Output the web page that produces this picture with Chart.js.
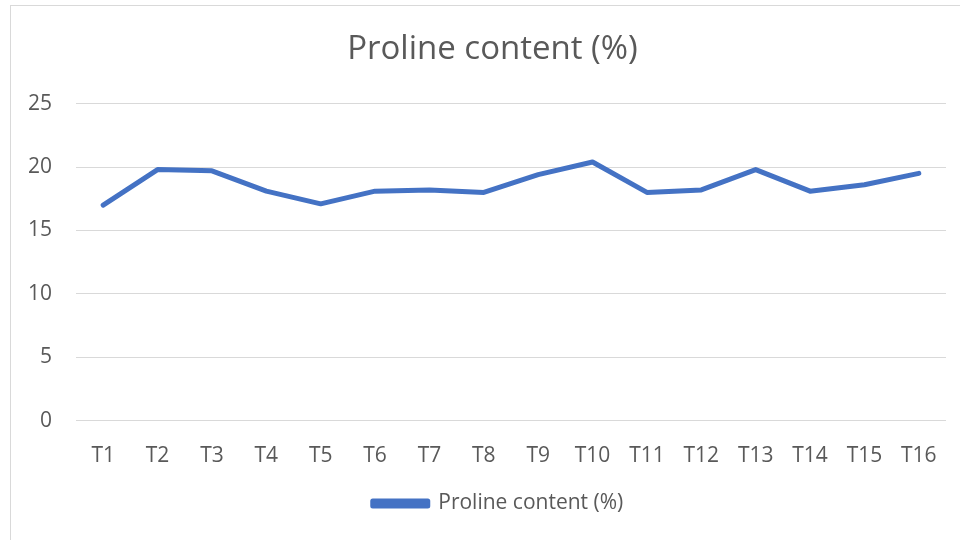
<!DOCTYPE html>
<html>
<head>
<meta charset="utf-8">
<script src="https://cdn.jsdelivr.net/npm/chart.js@4.4.1/dist/chart.umd.min.js"></script>
<style>
  html, body { margin: 0; padding: 0; background: #fff; }
  #wrap { position: relative; width: 960px; height: 540px; overflow: hidden; }
  #frame { position: absolute; left: 10px; top: 5px; width: 960px; height: 560px; border: 1px solid #d9d9d9; box-sizing: border-box; }
  #chart { position: absolute; left: 0; top: 0; }
</style>
</head>
<body>
<div id="wrap">
  <div id="frame"></div>
  <canvas id="chart" width="960" height="540"></canvas>
</div>
<script>
// Proline content per treatment
const categories = ['T1', 'T2', 'T3', 'T4', 'T5', 'T6', 'T7', 'T8', 'T9', 'T10', 'T11', 'T12', 'T13', 'T14', 'T15', 'T16'];
const prolineValues = [17.0, 19.8, 19.7, 18.1, 17.1, 18.1, 18.2, 18.0, 19.4, 20.4, 18.0, 18.2, 19.8, 18.1, 18.6, 19.5];
const seriesName = 'Proline content (%)';
const yTicks = [0, 5, 10, 15, 20, 25];

const textColor = '#595959';
const gridColor = '#d9d9d9';
const lineColor = '#4472C4';
const fontFamily = '"Open Sans", Lato, sans-serif';

// the original frame runs past the right edge, so title and legend sit right of the canvas centre
const shiftBoxes = {
  id: 'shiftBoxes',
  afterLayout(chart) {
    if (chart.titleBlock) chart.titleBlock.left += 38;
    if (chart.legend) chart.legend.left += 49;
  }
};

function init() {
  const ctx = document.getElementById('chart');

  new Chart(ctx, {
    type: 'line',
    data: {
      labels: categories,
      datasets: [{
        label: seriesName,
        data: prolineValues,
        borderColor: lineColor,
        backgroundColor: lineColor,
        borderWidth: 5,
        borderCapStyle: 'round',
        borderJoinStyle: 'round',
        pointRadius: 0,
        pointHoverRadius: 0,
        tension: 0
      }]
    },
    options: {
      responsive: false,
      animation: false,
      layout: { padding: { left: 0, right: 13, top: 0, bottom: 16 } },
      plugins: {
        title: {
          display: true,
          text: seriesName,
          color: textColor,
          font: { family: fontFamily, size: 33, weight: 'normal' },
          padding: { top: 30, bottom: 34 }
        },
        legend: {
          position: 'bottom',
          labels: {
            color: textColor,
            font: { family: fontFamily, size: 21 },
            boxWidth: 55,
            boxHeight: 5,
            padding: 10
          }
        },
        tooltip: { enabled: false }
      },
      scales: {
        x: {
          offset: true,
          afterFit: (scale) => { scale.height = scale.height - 9; },
          grid: { display: false, drawTicks: false },
          border: { display: false },
          ticks: {
            color: textColor,
            font: { family: fontFamily, size: 21 },
            padding: 23,
            maxRotation: 0
          }
        },
        y: {
          min: 0,
          max: 25,
          afterFit: (scale) => { scale.width = 76; },
          afterBuildTicks: (scale) => { scale.ticks = yTicks.map(v => ({ value: v })); },
          grid: { color: gridColor, lineWidth: 1, drawTicks: false },
          border: { display: false },
          ticks: {
            color: textColor,
            font: { family: fontFamily, size: 21 },
            padding: 24
          }
        }
      }
    },
    plugins: [shiftBoxes]
  });
}

document.addEventListener('DOMContentLoaded', init);
</script>
</body>
</html>
